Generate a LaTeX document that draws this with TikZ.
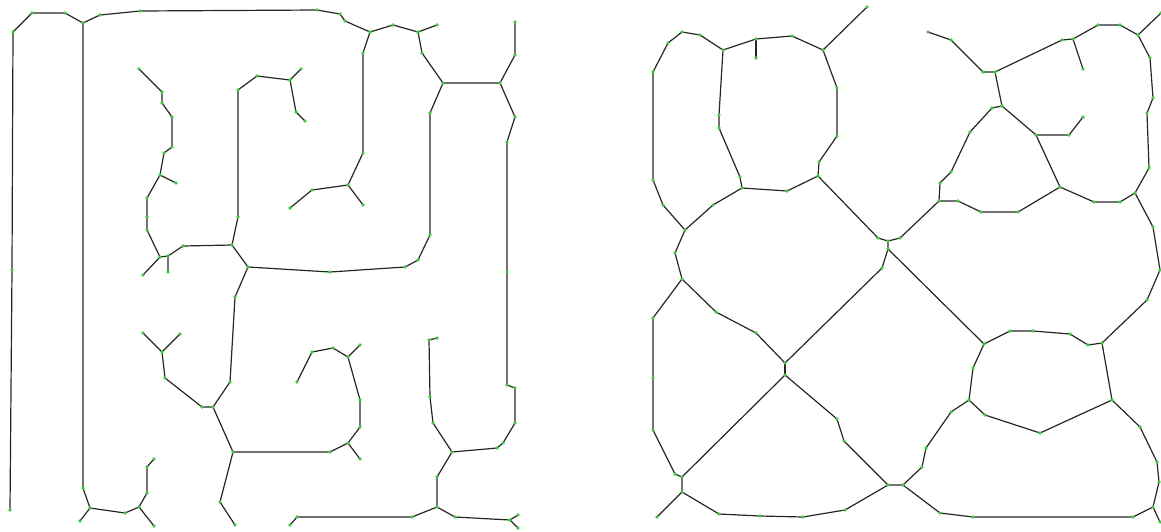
\documentclass[tikz,border=0pt]{standalone}
\usepackage{tikz}
\definecolor{skelgreen}{RGB}{70,200,70}
\def\leftpts{L1/10/510, L2/12/270, L3/13/32, L4/32/13, L5/65/13, L6/83/23,
  L7/83/488, L8/90/508, L9/80/521, L10/125/513, L11/139/507, L12/147/493,
  L13/147/467, L14/154/459, L15/154/526, L16/100/15, L17/140/11, L18/317/10,
  L19/340/14, L20/345/21, L21/370/32, L22/393/25, L23/418/32, L24/437/25,
  L25/422/53, L26/443/83, L27/500/83, L28/515/55, L29/515/22, L30/515/117,
  L31/507/142, L32/507/272, L33/507/385, L34/515/388, L35/515/423, L36/503/443,
  L37/497/448, L38/452/452, L39/430/113, L40/430/235, L41/418/260, L42/405/267,
  L43/330/272, L44/248/267, L45/363/53, L46/363/153, L47/348/185, L48/312/190,
  L49/290/208, L50/363/205, L51/232/245, L52/238/217, L53/238/90, L54/257/76,
  L55/290/80, L56/301/69, L57/296/112, L58/305/121, L59/183/246, L60/168/256,
  L61/160/257, L62/143/275, L63/168/272, L64/147/230, L65/147/217, L66/147/198,
  L67/160/175, L68/176/183, L69/164/153, L70/172/147, L71/172/117, L72/162/103,
  L73/162/92, L74/139/69, L75/235/297, L76/230/382, L77/213/407, L78/202/407,
  L79/165/378, L80/162/352, L81/143/333, L82/180/334, L83/233/452, L84/330/452,
  L85/348/443, L86/360/459, L87/360/427, L88/360/400, L89/348/357, L90/360/345,
  L91/333/348, L92/312/352, L93/297/382, L94/220/502, L95/235/525, L96/290/525,
  L97/297/517, L98/412/517, L99/437/507, L100/437/477, L101/433/423,
  L102/430/397, L103/429/340, L104/437/338, L105/455/517, L106/510/520,
  L107/518/515, L108/518/528}
\def\rightpts{R1/685/230, R2/663/205, R3/653/180, R4/653/72, R5/668/43,
  R6/682/32, R7/700/35, R8/723/50, R9/719/115, R10/719/128, R11/740/177,
  R12/742/188, R13/713/205, R14/787/191, R15/818/176, R16/819/162,
  R17/837/136, R18/837/88, R19/823/50, R20/867/7, R21/792/36, R22/756/39,
  R23/756/58, R24/878/238, R25/888/241, R26/900/238, R27/888/249, R28/882/268,
  R29/785/363, R30/785/375, R31/756/333, R32/716/312, R33/682/279,
  R34/675/253, R35/653/318, R36/653/378, R37/653/430, R38/675/474,
  R39/682/477, R40/682/492, R41/657/517, R42/719/514, R43/760/516,
  R44/803/517, R45/845/510, R46/888/485, R47/903/485, R48/837/419,
  R49/844/441, R50/928/32, R51/951/40, R52/983/72, R53/995/72, R54/1062/40,
  R55/1073/39, R56/1083/69, R57/1098/25, R58/1120/25, R59/1138/35,
  R60/1161/13, R61/1150/58, R62/1153/98, R63/1147/113, R64/1149/168,
  R65/1135/193, R66/1120/202, R67/1094/202, R68/1060/187, R69/1036/135,
  R70/1069/135, R71/1083/117, R72/1002/106, R73/992/108, R74/970/132,
  R75/951/172, R76/940/183, R77/939/201, R78/958/201, R79/981/212,
  R80/1018/212, R82/1153/227, R83/1160/270, R84/1147/300, R85/1102/343,
  R86/1088/345, R87/1070/334, R88/1033/331, R89/1010/331, R90/984/344,
  R91/973/368, R92/969/400, R93/985/415, R94/1040/433, R95/1112/400,
  R96/1140/427, R97/1157/462, R98/1159/482, R99/1153/507, R100/1160/522,
  R101/1133/517, R102/973/517, R103/940/513, R104/922/467, R105/926/448,
  R106/951/412}
\begin{document}
\begin{tikzpicture}[
  x=0.5pt, y=-0.5pt,
  edge/.style={draw=black!85,line width=0.6pt,line join=round},
  vtx/.style={fill=skelgreen}
]
  \useasboundingbox (0,0) rectangle (1161,531);
  \foreach \n/\x/\y in \leftpts {\coordinate (\n) at (\x,\y);}
  \foreach \n/\x/\y in \rightpts {\coordinate (\n) at (\x,\y);}

  % left skeleton
  \draw[edge] (L1) -- (L2) -- (L3) -- (L4) -- (L5) -- (L6);
  \draw[edge] (L6) -- (L7) -- (L8) -- (L9);
  \draw[edge] (L8) -- (L10) -- (L11) -- (L12) -- (L13) -- (L14);
  \draw[edge] (L11) -- (L15);
  \draw[edge] (L6) -- (L16) -- (L17) -- (L18) -- (L19) -- (L20) -- (L21);
  \draw[edge] (L21) -- (L22) -- (L23) -- (L24);
  \draw[edge] (L23) -- (L25) -- (L26) -- (L27) -- (L28) -- (L29);
  \draw[edge] (L27) -- (L30) -- (L31) -- (L32) -- (L33) -- (L34) -- (L35) -- (L36) -- (L37) -- (L38);
  \draw[edge] (L26) -- (L39) -- (L40) -- (L41) -- (L42) -- (L43) -- (L44);
  \draw[edge] (L21) -- (L45) -- (L46) -- (L47) -- (L48) -- (L49);
  \draw[edge] (L47) -- (L50);
  \draw[edge] (L44) -- (L51) -- (L52) -- (L53) -- (L54) -- (L55) -- (L56);
  \draw[edge] (L55) -- (L57) -- (L58);
  \draw[edge] (L51) -- (L59) -- (L60) -- (L63);
  \draw[edge] (L60) -- (L61) -- (L62);
  \draw[edge] (L61) -- (L64) -- (L65) -- (L66) -- (L67) -- (L68);
  \draw[edge] (L67) -- (L69) -- (L70) -- (L71) -- (L72) -- (L73) -- (L74);
  \draw[edge] (L44) -- (L75) -- (L76) -- (L77) -- (L78) -- (L79) -- (L80) -- (L81);
  \draw[edge] (L80) -- (L82);
  \draw[edge] (L77) -- (L83) -- (L84) -- (L85) -- (L86);
  \draw[edge] (L85) -- (L87) -- (L88) -- (L89) -- (L90);
  \draw[edge] (L89) -- (L91) -- (L92) -- (L93);
  \draw[edge] (L83) -- (L94) -- (L95);
  \draw[edge] (L96) -- (L97) -- (L98) -- (L99) -- (L100) -- (L38);
  \draw[edge] (L38) -- (L101) -- (L102) -- (L103) -- (L104);
  \draw[edge] (L99) -- (L105) -- (L106) -- (L107);
  \draw[edge] (L106) -- (L108);

  % right skeleton
  \draw[edge] (R1) -- (R2) -- (R3) -- (R4) -- (R5) -- (R6) -- (R7) -- (R8) -- (R9) -- (R10) -- (R11) -- (R12) -- (R13) -- (R1);
  \draw[edge] (R12) -- (R14) -- (R15) -- (R16) -- (R17) -- (R18) -- (R19) -- (R20);
  \draw[edge] (R19) -- (R21) -- (R22) -- (R8);
  \draw[edge] (R22) -- (R23);
  \draw[edge] (R15) -- (R24) -- (R25) -- (R26) -- (R77);
  \draw[edge] (R25) -- (R27) -- (R28) -- (R29);
  \draw[edge] (R27) -- (R90);
  \draw[edge] (R29) -- (R30);
  \draw[edge] (R29) -- (R31) -- (R32) -- (R33) -- (R34) -- (R1);
  \draw[edge] (R33) -- (R35) -- (R36) -- (R37) -- (R38) -- (R39) -- (R30);
  \draw[edge] (R39) -- (R40) -- (R41);
  \draw[edge] (R40) -- (R42) -- (R43) -- (R44) -- (R45) -- (R46) -- (R47);
  \draw[edge] (R30) -- (R48) -- (R49) -- (R46);
  \draw[edge] (R50) -- (R51) -- (R52) -- (R53) -- (R54) -- (R55) -- (R56);
  \draw[edge] (R55) -- (R57) -- (R58) -- (R59) -- (R60);
  \draw[edge] (R59) -- (R61) -- (R62) -- (R63) -- (R64) -- (R65) -- (R66) -- (R67) -- (R68) -- (R69) -- (R70) -- (R71);
  \draw[edge] (R69) -- (R72) -- (R53);
  \draw[edge] (R72) -- (R73) -- (R74) -- (R75) -- (R76) -- (R77) -- (R78) -- (R79) -- (R80) -- (R68);
  \draw[edge] (R65) -- (R82) -- (R83) -- (R84) -- (R85) -- (R86) -- (R87) -- (R88) -- (R89) -- (R90) -- (R91) -- (R92) -- (R93) -- (R94) -- (R95) -- (R85);
  \draw[edge] (R95) -- (R96) -- (R97) -- (R98) -- (R99) -- (R100);
  \draw[edge] (R99) -- (R101) -- (R102) -- (R103) -- (R47) -- (R104) -- (R105) -- (R106) -- (R92);

  % vertex dots
  \foreach \n/\x/\y in \leftpts {\fill[vtx] (\n) circle (0.9pt);}
  \foreach \n/\x/\y in \rightpts {\fill[vtx] (\n) circle (0.9pt);}
\end{tikzpicture}
\end{document}
